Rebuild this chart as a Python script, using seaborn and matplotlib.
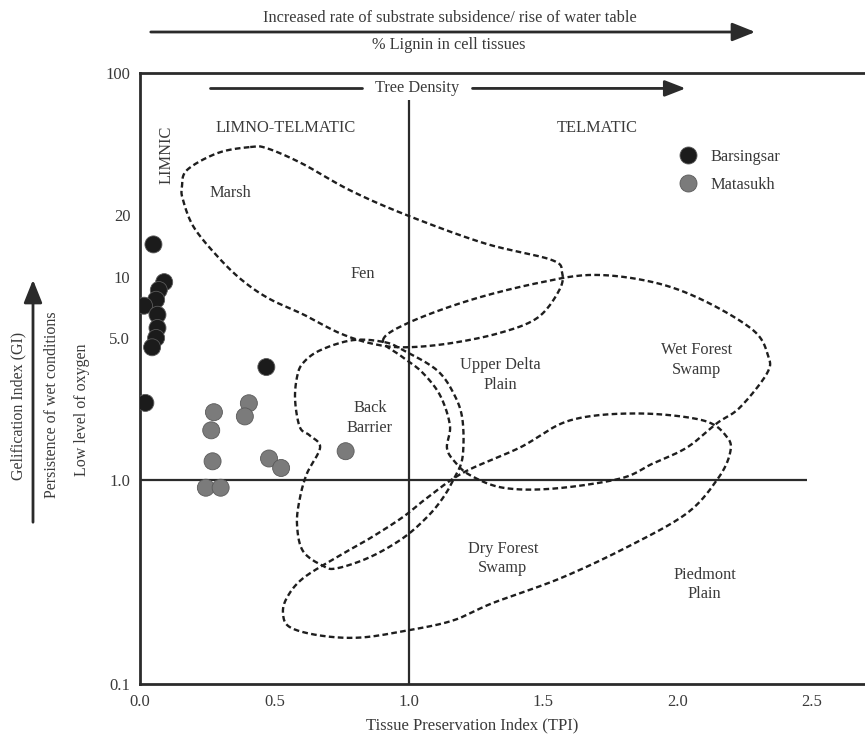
import numpy as np
import pandas as pd
import matplotlib
matplotlib.use("Agg")
import matplotlib.pyplot as plt
import seaborn as sns

# ---------------- data ----------------
barsingsar_tpi = [0.05, 0.09, 0.07, 0.06, 0.015, 0.065, 0.065, 0.06, 0.045, 0.02, 0.47]
barsingsar_gi = [14.4, 9.4, 8.6, 7.7, 7.2, 6.5, 5.6, 5.0, 4.5, 2.4, 3.6]

matasukh_tpi = [0.275, 0.265, 0.27, 0.245, 0.30, 0.405, 0.39, 0.48, 0.525, 0.765]
matasukh_gi = [2.16, 1.76, 1.24, 0.92, 0.92, 2.39, 2.06, 1.28, 1.15, 1.39]

# facies field outlines (TPI, GI), traced clockwise
marsh_fen_tpi = [0.41, 0.47, 0.60, 0.78, 0.99, 1.28, 1.53, 1.57, 1.56, 1.48, 1.34, 1.15,
                 0.98, 0.86, 0.74, 0.61, 0.48, 0.38, 0.29, 0.20, 0.16, 0.156, 0.175, 0.29]
marsh_fen_gi = [43.3, 42.8, 36.1, 26.6, 20.1, 14.6, 12.1, 10.5, 8.6, 6.3, 5.3, 4.7,
                4.5, 4.7, 5.3, 6.5, 7.8, 9.6, 12.5, 17.5, 23.8, 27.5, 33.4, 40.5]

back_barrier_tpi = [0.91, 0.98, 1.105, 1.17, 1.20, 1.20, 1.17, 1.127, 1.068, 0.978, 0.856, 0.733,
                    0.681, 0.606, 0.584, 0.595, 0.621, 0.670, 0.632, 0.595, 0.577, 0.584, 0.606, 0.670, 0.792]
back_barrier_gi = [4.77, 4.35, 3.47, 2.62, 1.97, 1.30, 1.03, 0.82, 0.66, 0.52, 0.42, 0.37,
                   0.38, 0.45, 0.61, 0.82, 1.08, 1.45, 1.66, 1.82, 2.47, 3.21, 3.76, 4.35, 4.88]

wet_forest_tpi = [0.904, 1.004, 1.228, 1.477, 1.685, 1.908, 2.094, 2.281, 2.336, 2.333, 2.232, 2.147,
                  2.035, 1.908, 1.786, 1.536, 1.350, 1.228, 1.172, 1.142, 1.153, 1.116, 1.049, 0.978]
wet_forest_gi = [4.88, 5.98, 7.67, 9.29, 10.2, 9.4, 7.67, 5.46, 4.11, 3.36, 2.28, 1.91,
                 1.45, 1.21, 1.02, 0.91, 0.92, 1.06, 1.23, 1.44, 1.86, 2.62, 3.40, 4.02]

dry_forest_tpi = [1.202, 1.414, 1.600, 1.849, 2.094, 2.184, 2.195, 2.150, 2.035, 1.812, 1.563, 1.313,
                  1.164, 0.993, 0.818, 0.670, 0.558, 0.532, 0.547, 0.606, 0.733, 0.856, 0.978, 1.068]
dry_forest_gi = [1.09, 1.45, 1.97, 2.13, 1.97, 1.63, 1.36, 1.02, 0.69, 0.47, 0.33, 0.25,
                 0.205, 0.183, 0.169, 0.173, 0.19, 0.222, 0.266, 0.33, 0.42, 0.52, 0.66, 0.82]

field_labels = ["Marsh", "Fen", "Upper Delta\nPlain", "Back\nBarrier", "Wet Forest\nSwamp",
                "Dry Forest\nSwamp", "Piedmont\nPlain"]
field_label_tpi = [0.335, 0.83, 1.34, 0.855, 2.07, 1.35, 2.10]
field_label_gi = [25.7, 10.3, 3.3, 2.02, 3.89, 0.414, 0.308]

zone_labels = ["LIMNO-TELMATIC", "TELMATIC"]
zone_label_tpi = [0.543, 1.70]
zone_label_gi = [53.7, 53.7]

x_ticks = [0.0, 0.5, 1.0, 1.5, 2.0, 2.5]
x_tick_labels = ["0.0", "0.5", "1.0", "1.5", "2.0", "2.5"]
y_ticks = [0.1, 1.0, 5.0, 10, 20, 100]
y_tick_labels = ["0.1", "1.0", "5.0", "10", "20", "100"]

TPI_LIMIT = 1.0
GI_LIMIT = 1.0

# ---------------- helpers ----------------
def smooth_closed(tpi, gi, n=24):
    """Closed Catmull-Rom curve through the points, in (TPI, log GI) space."""
    P = np.column_stack([np.asarray(tpi, float), np.log10(np.asarray(gi, float))])
    m = len(P)
    t = np.linspace(0, 1, n, endpoint=False)[:, None]
    segs = []
    for i in range(m):
        p0, p1, p2, p3 = P[(i - 1) % m], P[i], P[(i + 1) % m], P[(i + 2) % m]
        seg = 0.5 * (2 * p1 + (-p0 + p2) * t + (2 * p0 - 5 * p1 + 4 * p2 - p3) * t ** 2
                     + (-p0 + 3 * p1 - 3 * p2 + p3) * t ** 3)
        segs.append(seg)
    pts = np.vstack(segs + [segs[0][:1]])
    return pts[:, 0], 10 ** pts[:, 1]


# ---------------- figure ----------------
sns.set_theme(style="white")
plt.rcParams["font.family"] = ["Liberation Serif", "DejaVu Serif"]
ink = "#2b2b2b"
txt = "#3a3a3a"
fs = 11.8

W, H = 865, 735
fig = plt.figure(figsize=(W / 100, H / 100), dpi=100)
ax = fig.add_axes([140 / W, 51 / H, 725 / W, 611 / H])

df = pd.DataFrame({
    "TPI": barsingsar_tpi + matasukh_tpi,
    "GI": barsingsar_gi + matasukh_gi,
    "Site": ["Barsingsar"] * len(barsingsar_tpi) + ["Matasukh"] * len(matasukh_tpi),
})

# facies fields
dash = (0, (2.4, 1.4))
for tpi, gi in [(marsh_fen_tpi, marsh_fen_gi), (back_barrier_tpi, back_barrier_gi),
                (wet_forest_tpi, wet_forest_gi), (dry_forest_tpi, dry_forest_gi)]:
    sx, sy = smooth_closed(tpi, gi)
    ax.plot(sx, sy, color="#1e1e1e", lw=1.7, ls=dash, zorder=2)

# TPI / GI dividing lines
ax.hlines(GI_LIMIT, 0, 2.48, color=ink, lw=1.6, zorder=1)
ax.vlines(TPI_LIMIT, 0.1, 74, color=ink, lw=1.6, zorder=1)

sns.scatterplot(data=df, x="TPI", y="GI", hue="Site",
                palette={"Barsingsar": "#1b1b1b", "Matasukh": "#7b7b7b"},
                s=150, edgecolor="#5a5a5a", linewidth=0.6, ax=ax, zorder=3, legend=True)

ax.set_yscale("log")
ax.set_xlim(0, 725 / 268.8)
ax.set_ylim(0.1, 100)
ax.set_xticks(x_ticks)
ax.set_xticklabels(x_tick_labels)
ax.set_yticks(y_ticks)
ax.set_yticklabels(y_tick_labels)
ax.yaxis.set_minor_locator(matplotlib.ticker.NullLocator())
ax.tick_params(axis="both", direction="out", length=5, width=1.6, color=ink,
               labelcolor=txt, labelsize=12, pad=2)
for side in ["left", "bottom", "top"]:
    ax.spines[side].set_visible(True)
    ax.spines[side].set_color(ink)
    ax.spines[side].set_linewidth(2.0)
ax.spines["right"].set_visible(False)

ax.set_xlabel("Tissue Preservation Index (TPI)", fontsize=12, color=txt, labelpad=2)
ax.xaxis.set_label_coords((472 - 140) / 725, -0.055)
ax.set_ylabel("")

# field and zone labels
for lab, x, y in zip(field_labels, field_label_tpi, field_label_gi):
    ax.text(x, y, lab, ha="center", va="center", fontsize=fs, color=txt, linespacing=1.3)
for lab, x, y in zip(zone_labels, zone_label_tpi, zone_label_gi):
    ax.text(x, y, lab, ha="center", va="center", fontsize=fs, color=txt)
ax.text(0.10, 39.5, "LIMNIC", rotation=90, ha="center", va="center", fontsize=fs, color=txt)

# tree density arrow
ax.plot([0.26, 0.826], [84, 84], color=ink, lw=2.0)
ax.text(1.03, 84, "Tree Density", ha="center", va="center", fontsize=fs, color=txt)
ax.annotate("", xy=(2.03, 84), xytext=(1.237, 84),
            arrowprops=dict(arrowstyle="-|>,head_length=0.9,head_width=0.35",
                            color=ink, lw=2.0, mutation_scale=14, shrinkA=0, shrinkB=0))

# legend
leg = ax.legend(loc="upper left", bbox_to_anchor=(670 / W, 1 - 141 / H),
                bbox_transform=fig.transFigure, frameon=False, fontsize=fs,
                handletextpad=0.75, labelspacing=0.72, handlelength=1.2, borderpad=0)
for t in leg.get_texts():
    t.set_color(txt)

# annotations outside the axes
fig.text(450 / W, 1 - 18 / H, "Increased rate of substrate subsidence/ rise of water table",
         ha="center", va="center", fontsize=fs, color=txt)
fig.text(449 / W, 1 - 45 / H, "% Lignin in cell tissues",
         ha="center", va="center", fontsize=fs, color=txt)
fig.add_artist(matplotlib.patches.FancyArrowPatch(
    (148 / W, 1 - 32 / H), (758 / W, 1 - 32 / H), transform=fig.transFigure,
    arrowstyle="-|>,head_length=1.0,head_width=0.4", mutation_scale=14,
    color=ink, lw=2.0))

fig.text(18 / W, 1 - 406 / H, "Gelification Index (GI)", rotation=90,
         ha="center", va="center", fontsize=11.5, color=txt)
fig.text(52 / W, 1 - 405 / H, "Persistence of wet conditions", rotation=90,
         ha="center", va="center", fontsize=11.5, color=txt)
fig.text(82 / W, 1 - 410 / H, "Low level of oxygen", rotation=90,
         ha="center", va="center", fontsize=11.5, color=txt)
fig.add_artist(matplotlib.patches.FancyArrowPatch(
    (33 / W, 1 - 525 / H), (33 / W, 1 - 277 / H), transform=fig.transFigure,
    arrowstyle="-|>,head_length=1.0,head_width=0.4", mutation_scale=14,
    color=ink, lw=2.0))

fig.savefig("out.png", dpi=100)
